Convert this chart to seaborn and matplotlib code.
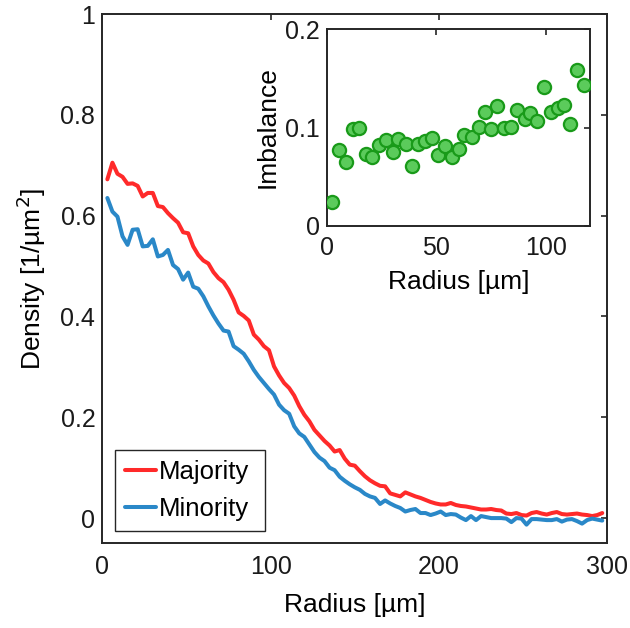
import numpy as np
import pandas as pd
import matplotlib
matplotlib.use("Agg")
import matplotlib.pyplot as plt
import seaborn as sns
from matplotlib.lines import Line2D

# ---------------- data ----------------
radius = list(range(3, 300, 3))
majority = [0.672, 0.705, 0.683, 0.677, 0.663, 0.664, 0.659, 0.638, 0.645, 0.645,
            0.619, 0.617, 0.605, 0.595, 0.586, 0.567, 0.565, 0.539, 0.522, 0.511,
            0.505, 0.488, 0.476, 0.468, 0.453, 0.433, 0.408, 0.401, 0.392, 0.364,
            0.354, 0.341, 0.333, 0.301, 0.283, 0.268, 0.258, 0.243, 0.222, 0.205,
            0.192, 0.175, 0.164, 0.153, 0.144, 0.132, 0.135, 0.118, 0.106, 0.104,
            0.093, 0.083, 0.075, 0.069, 0.064, 0.063, 0.049, 0.046, 0.043, 0.051,
            0.047, 0.043, 0.040, 0.036, 0.032, 0.029, 0.027, 0.027, 0.030, 0.026,
            0.024, 0.023, 0.021, 0.019, 0.017, 0.017, 0.018, 0.016, 0.015, 0.009,
            0.008, 0.010, 0.006, 0.005, 0.010, 0.012, 0.009, 0.007, 0.010, 0.012,
            0.008, 0.007, 0.008, 0.009, 0.007, 0.006, 0.004, 0.006, 0.010]
minority = [0.635, 0.608, 0.598, 0.559, 0.542, 0.572, 0.573, 0.539, 0.540, 0.553,
            0.519, 0.522, 0.532, 0.502, 0.494, 0.473, 0.487, 0.459, 0.455, 0.440,
            0.420, 0.402, 0.386, 0.372, 0.370, 0.341, 0.334, 0.326, 0.311, 0.294,
            0.280, 0.268, 0.256, 0.245, 0.225, 0.214, 0.207, 0.182, 0.168, 0.161,
            0.146, 0.131, 0.120, 0.113, 0.100, 0.095, 0.082, 0.074, 0.067, 0.061,
            0.056, 0.048, 0.043, 0.040, 0.028, 0.035, 0.029, 0.024, 0.020, 0.013,
            0.016, 0.018, 0.010, 0.010, 0.006, 0.009, 0.013, 0.006, 0.008, 0.007,
            0.001, -0.004, 0.004, -0.004, 0.004, 0.002, 0.000, 0.000, 0.000, -0.001,
            -0.008, 0.000, -0.001, -0.013, -0.002, -0.002, -0.003, -0.004, -0.004, -0.002,
            -0.007, -0.003, -0.002, -0.006, -0.011, -0.004, -0.001, -0.003, -0.005]

inset_radius = [2.4, 5.5, 8.8, 11.9, 14.9, 17.7, 20.7, 23.8, 26.8, 30.2,
                32.6, 36.0, 39.0, 41.8, 44.8, 47.9, 50.9, 54.0, 57.0, 60.1,
                62.5, 66.2, 69.2, 72.0, 75.0, 77.7, 80.8, 84.1, 86.9, 90.2,
                92.7, 96.0, 99.1, 102.1, 105.2, 108.2, 111.0, 114.0, 117.1]
imbalance = [0.0244, 0.0766, 0.0644, 0.098, 0.099, 0.0732, 0.0695, 0.082, 0.0868, 0.0749,
             0.0878, 0.083, 0.061, 0.083, 0.0864, 0.0895, 0.0725, 0.081, 0.0698, 0.078,
             0.0922, 0.0908, 0.101, 0.116, 0.098, 0.122, 0.100, 0.101, 0.118, 0.109,
             0.115, 0.107, 0.141, 0.116, 0.120, 0.123, 0.104, 0.159, 0.143]

series_names = ["Majority", "Minority"]
x_ticks = [0, 100, 200, 300]
y_ticks = [0, 0.2, 0.4, 0.6, 0.8, 1]
y_ticklabels = ["0", "0.2", "0.4", "0.6", "0.8", "1"]
inset_x_ticks = [0, 50, 100]
inset_y_ticks = [0, 0.1, 0.2]
inset_y_ticklabels = ["0", "0.1", "0.2"]

# ---------------- style ----------------
sns.set_theme(style="white")
plt.rcParams["font.family"] = ["Liberation Sans", "DejaVu Sans"]
dark = "#262626"
plt.rcParams.update({
    "axes.edgecolor": dark, "axes.linewidth": 1.4,
    "xtick.color": dark, "ytick.color": dark,
    "xtick.direction": "in", "ytick.direction": "in",
    "xtick.major.size": 4, "ytick.major.size": 4,
    "xtick.major.width": 1.2, "ytick.major.width": 1.2,
    "xtick.top": True, "ytick.right": True,
    "text.color": "black", "axes.labelcolor": "black",
})

red = "#FF2A2A"
blue = "#2A88C8"
tick_fs = 18
label_fs = 19

fig = plt.figure(figsize=(6.30, 6.28), dpi=100)
ax = fig.add_axes([0.1624, 0.1349, 0.8016, 0.8428])

df = pd.DataFrame({
    "Radius": radius * 2,
    "Density": majority + minority,
    "Group": [series_names[0]] * len(radius) + [series_names[1]] * len(radius),
})
sns.lineplot(data=df, x="Radius", y="Density", hue="Group",
             palette={series_names[0]: red, series_names[1]: blue},
             linewidth=2.9, ax=ax, legend=False)

ax.set_xlim(0, 300)
ax.set_ylim(-0.05, 1)
ax.set_xticks(x_ticks)
ax.set_yticks(y_ticks)
ax.set_yticklabels(y_ticklabels)
ax.tick_params(labelsize=tick_fs, colors=dark, labelcolor="#1a1a1a")
ax.tick_params(axis="x", pad=8.5)
ax.tick_params(axis="y", pad=5)
ax.set_xlabel("Radius [µm]", fontsize=label_fs, labelpad=10)
ax.set_ylabel("Density [1/µm$^2$]", fontsize=label_fs, labelpad=9)
for sp in ax.spines.values():
    sp.set_visible(True)

handles = [Line2D([], [], color=red, lw=2.9), Line2D([], [], color=blue, lw=2.9)]
leg = ax.legend(handles, series_names, loc="lower left",
                bbox_to_anchor=(0.025, 0.0226, 0.297, 0.15), mode="expand",
                borderaxespad=0,
                fontsize=18.5, frameon=True, fancybox=False, framealpha=1,
                edgecolor=dark, handlelength=1.2, handletextpad=0.1,
                labelspacing=0.5, borderpad=0.4)
leg.get_frame().set_linewidth(1.0)

# ---------------- inset ----------------
ins = fig.add_axes([0.5186, 0.6406, 0.418, 0.3127])
sns.scatterplot(x=inset_radius, y=imbalance, ax=ins, s=90,
                color="#5BCB5B", edgecolor="#199A19", linewidth=1.6, zorder=3)
ins.set_xlim(0, 120)
ins.set_ylim(0, 0.2)
ins.set_xticks(inset_x_ticks)
ins.set_yticks(inset_y_ticks)
ins.set_yticklabels(inset_y_ticklabels)
ins.tick_params(labelsize=tick_fs, colors=dark, labelcolor="#1a1a1a")
ins.tick_params(axis="x", pad=7.5)
ins.tick_params(axis="y", pad=5)
ins.set_xlabel("Radius [µm]", fontsize=label_fs, labelpad=7)
ins.set_ylabel("Imbalance", fontsize=label_fs, labelpad=4)
for sp in ins.spines.values():
    sp.set_visible(True)

fig.savefig("out.png", dpi=100)
